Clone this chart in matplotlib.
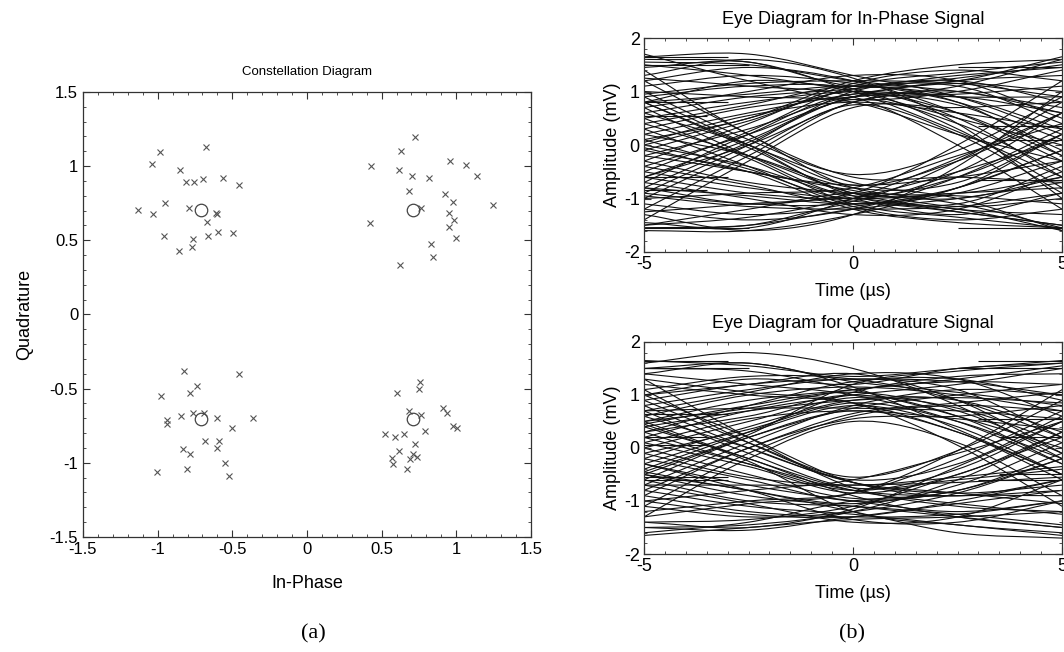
import numpy as np
import matplotlib
matplotlib.use("Agg")
import matplotlib.pyplot as plt
from matplotlib.path import Path
from matplotlib.patches import PathPatch
from matplotlib.ticker import MultipleLocator, FuncFormatter

plt.rcParams["font.family"] = ["Liberation Sans", "DejaVu Sans"]
plt.rcParams["axes.unicode_minus"] = False

# ideal QPSK points (circles)
ref_i = [-0.707, 0.707, -0.707, 0.707]
ref_q = [0.707, 0.707, -0.707, -0.707]

# received symbols (crosses), quadrant by quadrant
rx_i = [
    -0.984, -0.678, -1.040, -0.848, -0.810, -0.755, -0.696, -0.564, -0.453, -0.949,
    -1.134, -1.033, -0.792, -0.611, -0.604, -0.669, -0.957, -0.661, -0.594, -0.493,
    -0.761, -0.770, -0.857,
    0.724, 0.630, 0.956, 1.067, 0.619, 0.706, 0.817, 1.141, 0.686, 0.927,
    0.976, 1.244, 0.764, 0.953, 0.985, 0.953, 0.996, 0.833, 0.842, 0.623,
    0.430, 0.420,
    -0.826, -0.453, -0.734, -0.783, -0.978, -0.761, -0.690, -0.846, -0.937, -0.937,
    -0.604, -0.363, -0.502, -0.681, -0.587, -0.600, -0.832, -0.783, -0.549, -1.002,
    -0.801, -0.520,
    0.757, 0.748, 0.603, 0.686, 0.764, 0.909, 0.940, 0.791, 0.976, 1.007,
    0.525, 0.592, 0.648, 0.726, 0.619, 0.572, 0.574, 0.712, 0.735, 0.690, 0.668,
]
rx_q = [
    1.097, 1.127, 1.017, 0.976, 0.895, 0.895, 0.911, 0.920, 0.875, 0.754,
    0.706, 0.677, 0.716, 0.682, 0.675, 0.621, 0.529, 0.529, 0.558, 0.547,
    0.507, 0.453, 0.426,
    1.195, 1.102, 1.037, 1.006, 0.972, 0.934, 0.922, 0.932, 0.832, 0.812,
    0.756, 0.736, 0.716, 0.682, 0.635, 0.588, 0.513, 0.473, 0.389, 0.333,
    1.000, 0.620,
    -0.379, -0.404, -0.480, -0.528, -0.548, -0.667, -0.667, -0.685, -0.712, -0.739,
    -0.698, -0.696, -0.764, -0.853, -0.853, -0.903, -0.909, -0.941, -1.000, -1.064,
    -1.042, -1.089,
    -0.453, -0.503, -0.528, -0.651, -0.676, -0.631, -0.667, -0.786, -0.752, -0.768,
    -0.808, -0.824, -0.808, -0.876, -0.919, -0.970, -1.008, -0.941, -0.963, -0.977, -1.042,
]

# eye traces: amplitude (mV) at these times (us)
eye_t = [-5, -2.5, 0, 2.5, 5]

inphase_traces = [
    [1.65, 1.7, 1.3, 0.9, 0.2], [1.6, 1.55, 1.1, 1.2, 1.65], [1.2, 1.45, 1.2, 0.6, -0.3],
    [0.8, 1.2, 1.1, 1.3, 1.45], [0.2, 0.6, 0.95, 1.15, 1.0], [-0.2, 0.3, 0.9, 0.75, -0.1],
    [-0.6, 0.1, 0.85, 0.4, -0.5], [-1.0, -0.1, 0.75, 0.2, -0.9], [-1.4, -0.3, 0.7, 0.7, 0.8],
    [-0.9, 0.0, 1.0, 1.1, 0.4], [0.9, 1.1, 1.05, 0.3, -0.8], [0.5, 0.8, 1.0, 0.9, 0.9],
    [1.0, 0.9, 0.8, 0.2, -0.3], [1.5, 1.3, 1.0, 0.5, 0.0], [-0.3, 0.4, 1.15, 1.4, 1.2],
    [0.1, 0.5, 1.2, 1.5, 1.6], [1.3, 1.6, 1.25, 0.4, -1.0], [0.3, 0.7, 0.9, 1.0, 0.6],
    [-0.7, 0.2, 0.95, 0.6, -0.2], [0.8, 0.95, 1.1, 0.9, 0.3], [0.8, 0.0, -0.7, -1.0, -1.6],
    [-0.6, 0.0, 0.8, 1.1, 1.6], [1.7, 1.2, 0.85, 1.0, 1.4], [0.0, 0.5, 1.05, 1.2, 0.8],
    [1.1, 1.3, 1.15, 0.8, 0.1], [0.6, 0.9, 1.05, 1.25, 1.5], [-0.4, 0.2, 0.9, 1.2, 1.3],
    [-1.2, -0.2, 0.8, 0.9, 0.6], [1.55, 1.5, 1.2, 1.0, 0.7], [0.4, 0.75, 1.1, 0.8, -0.2],
    [-0.1, 0.45, 1.0, 0.5, -0.6], [1.25, 1.1, 0.9, 0.0, -1.2], [0.95, 1.15, 1.2, 1.15, 0.9],
    [-0.8, 0.05, 0.9, 0.95, 1.1], [0.7, 1.0, 1.3, 1.2, 0.5], [1.45, 1.55, 1.0, 0.25, -0.6],
    [0.05, 0.55, 0.8, 0.6, 0.3], [-0.5, 0.25, 1.1, 1.35, 1.55],
    [-1.6, -1.6, -1.3, -0.8, -0.1], [-1.55, -1.5, -1.1, -1.2, -1.6], [-1.2, -1.4, -1.2, -0.6, 0.3],
    [-0.8, -1.1, -1.0, -1.25, -1.5], [-0.2, -0.5, -0.85, -1.15, -1.0], [0.2, -0.2, -0.8, -0.7, 0.2],
    [0.6, 0.0, -0.75, -0.3, 0.6], [1.0, 0.1, -0.55, -0.1, 0.9], [1.4, 0.2, -0.6, -0.6, -0.7],
    [0.9, 0.0, -0.95, -1.1, -0.4], [-0.9, -1.1, -1.05, -0.3, 0.8], [-0.5, -0.8, -1.0, -0.9, -0.8],
    [-1.0, -0.9, -0.8, -0.2, 0.4], [-1.5, -1.35, -1.0, -0.5, 0.1], [0.3, -0.4, -1.15, -1.4, -1.2],
    [-0.1, -0.5, -1.2, -1.45, -1.55], [-1.3, -1.6, -1.3, -0.4, 1.0], [-0.3, -0.7, -0.9, -1.0, -0.6],
    [0.7, -0.2, -0.95, -0.6, 0.2], [-0.8, -0.95, -1.1, -0.9, -0.3], [-1.5, -1.2, -0.9, -1.1, -1.55],
    [0.0, -0.4, -1.0, -1.3, -0.9],
    [-1.1, -1.3, -1.15, -0.8, -0.1], [-0.6, -0.9, -1.05, -1.25, -1.5], [0.4, -0.2, -0.9, -1.2, -1.3],
    [1.2, 0.2, -0.8, -0.9, -0.6], [-1.55, -1.5, -1.2, -1.0, -0.7], [-0.4, -0.75, -1.1, -0.8, 0.2],
    [0.1, -0.45, -1.0, -0.5, 0.6], [-1.25, -1.1, -0.9, 0.0, 1.2], [-0.95, -1.15, -1.2, -1.15, -0.9],
    [0.8, -0.05, -0.9, -0.95, -1.1], [-0.7, -1.0, -1.3, -1.2, -0.5], [-1.45, -1.55, -1.0, -0.25, 0.6],
    [-0.05, -0.5, -0.75, -0.6, -0.3], [0.5, -0.25, -1.1, -1.35, -1.55],
]
# flat stretches: (level, t start, t end)
inphase_flat = [
    (1.65, -5, -3), (1.5, -5, -2.5), (1.45, 2.5, 5), (0.8, -5, -3), (0.55, -5, -3.5),
    (0.35, 3, 5), (0.1, 3.5, 5), (-0.6, -5, -3), (-0.85, -5, -3.5), (-1.55, -5, -2.5),
    (-1.55, 2.5, 5), (-0.65, 3, 5),
]

quad_traces = [
    [1.6, 1.8, 1.5, 0.8, -0.2], [1.65, 1.55, 1.35, 1.5, 1.65], [1.0, 1.3, 1.2, 1.5, 1.6],
    [0.6, 1.0, 1.15, 1.0, 0.7], [0.2, 0.7, 1.0, 1.2, 1.5], [-0.2, 0.4, 0.9, 0.9, 0.3],
    [-0.6, 0.2, 0.7, 0.3, -0.6], [-0.9, 0.0, 0.55, 0.6, 0.8], [-1.3, -0.2, 0.5, 0.1, -0.9],
    [0.7, 0.75, 0.75, 0.7, 0.55], [1.4, 1.2, 1.0, 0.5, -0.3], [0.8, 1.1, 1.3, 1.1, 0.2],
    [0.3, 0.8, 1.25, 1.3, 0.9], [-0.4, 0.3, 1.05, 1.35, 1.4], [1.2, 1.0, 0.85, 0.3, -0.5],
    [0.0, 0.5, 0.95, 0.75, 0.1], [1.5, 1.45, 1.1, 0.6, 0.0], [-0.7, 0.1, 0.8, 1.1, 1.0],
    [0.4, 0.7, 0.9, 0.95, 0.85], [1.0, 1.2, 1.4, 0.9, -0.1], [0.5, 0.75, 1.1, 1.25, 1.2],
    [0.3, 0.6, 1.0, 0.6, -0.3], [-0.1, 0.35, 0.85, 0.5, -0.2],
    [1.1, 1.35, 1.3, 0.9, 0.2], [0.5, 0.9, 1.1, 1.3, 1.55], [-0.5, 0.2, 0.75, 1.0, 1.2],
    [-1.1, -0.1, 0.6, 0.8, 0.7], [1.5, 1.6, 1.25, 1.05, 0.8], [0.45, 0.8, 1.05, 0.7, -0.1],
    [-0.3, 0.3, 0.8, 0.4, -0.5], [1.3, 1.05, 0.85, 0.05, -1.1], [0.9, 1.2, 1.3, 1.25, 1.0],
    [-0.8, 0.0, 0.65, 0.85, 1.05], [0.7, 1.05, 1.4, 1.3, 0.6], [1.4, 1.6, 1.15, 0.35, -0.5],
    [0.1, 0.55, 0.7, 0.55, 0.35], [-0.45, 0.25, 1.2, 1.45, 1.6],
    [-1.65, -1.5, -1.35, -1.3, -1.2], [-1.5, -1.45, -1.2, -0.6, 0.3], [-1.0, -1.25, -1.3, -1.0, -0.6],
    [-0.6, -1.0, -1.1, -1.25, -1.45], [-0.2, -0.6, -1.0, -0.8, -0.2], [0.2, -0.3, -0.8, -0.9, -0.8],
    [0.6, 0.0, -0.6, -0.3, 0.6], [0.9, 0.1, -0.55, -0.05, 0.9], [1.3, 0.2, -0.75, -1.1, -1.2],
    [-0.7, -0.7, -0.7, -0.65, -0.55], [-1.4, -1.35, -1.1, -0.5, 0.2], [-0.8, -1.1, -1.25, -1.45, -1.65],
    [-0.3, -0.7, -1.0, -1.2, -1.0], [0.0, -0.5, -0.95, -0.8, -0.1], [-1.2, -1.0, -0.85, -0.2, 0.7],
    [0.4, -0.2, -0.9, -1.3, -1.5], [-1.0, -0.8, -0.6, -0.1, 0.5], [0.7, -0.1, -0.75, -0.6, -0.4],
    [-0.5, -0.8, -1.2, -1.6, -1.7], [-1.6, -1.4, -1.0, -0.9, -0.9], [1.0, 0.2, -0.65, -0.9, -0.6],
    [-0.3, -0.8, -1.35, -1.4, -1.0], [0.1, -0.35, -0.85, -0.5, 0.3],
    [-1.1, -1.3, -1.2, -0.85, -0.2], [-0.5, -0.9, -1.1, -1.3, -1.5], [0.5, -0.2, -0.8, -1.05, -1.25],
    [1.1, 0.1, -0.65, -0.85, -0.7], [-1.5, -1.55, -1.3, -1.05, -0.8], [-0.45, -0.8, -1.05, -0.7, 0.1],
    [0.3, -0.3, -0.8, -0.4, 0.5], [-1.3, -1.05, -0.85, -0.05, 1.1], [-0.9, -1.2, -1.3, -1.25, -1.0],
    [0.8, 0.0, -0.65, -0.85, -1.05], [-0.7, -1.05, -1.4, -1.3, -0.6], [-1.4, -1.5, -1.15, -0.35, 0.5],
    [-0.1, -0.55, -0.7, -0.55, -0.35], [0.45, -0.25, -1.2, -1.45, -1.6],
]
quad_flat = [
    (1.65, -5, -3), (1.5, -5, -2.5), (1.5, 2.5, 5), (1.65, 3, 5), (0.65, -5, -3),
    (0.2, -5, -3.5), (0.05, -5, -3.5), (-0.55, -5, -3), (-0.6, -5, -3), (0.55, 3, 5),
    (0.2, 3.5, 5), (-0.6, 3, 5), (-0.5, 3.5, 5),
]

LINE = "#111111"
SPINE = "#333333"


def smooth_path(t, v):
    # cubic bezier through the sample points (catmull-rom tangents)
    t = np.asarray(t, float)
    v = np.asarray(v, float)
    slope = np.gradient(v, t)
    verts = [(t[0], v[0])]
    codes = [Path.MOVETO]
    for k in range(len(t) - 1):
        h = t[k + 1] - t[k]
        verts += [(t[k] + h / 3, v[k] + slope[k] * h / 3),
                  (t[k + 1] - h / 3, v[k + 1] - slope[k + 1] * h / 3),
                  (t[k + 1], v[k + 1])]
        codes += [Path.CURVE4] * 3
    return Path(verts, codes)


def matlab_axes(ax):
    ax.tick_params(which="both", direction="in", top=True, right=True, colors=SPINE,
                   labelcolor="black")
    ax.tick_params(which="major", length=5, width=0.8)
    ax.tick_params(which="minor", length=2.5, width=0.6)
    for s in ax.spines.values():
        s.set_color(SPINE)
        s.set_linewidth(0.9)


fig = plt.figure(figsize=(10.64, 6.52), dpi=100)

# (a) constellation
ax = fig.add_axes([0.078, 0.1764, 0.421, 0.6825])
ax.plot(rx_i, rx_q, linestyle="none", marker="x", markersize=5, mew=0.8, color="#555555")
ax.plot(ref_i, ref_q, linestyle="none", marker="o", markersize=9, mfc="none", mew=0.9,
        color="#444444")
ax.set_xlim(-1.5, 1.5)
ax.set_ylim(-1.5, 1.5)
ax.xaxis.set_major_locator(MultipleLocator(0.5))
ax.yaxis.set_major_locator(MultipleLocator(0.5))
ax.xaxis.set_minor_locator(MultipleLocator(0.1))
ax.yaxis.set_minor_locator(MultipleLocator(0.1))
fmt = FuncFormatter(lambda v, p: f"{v:g}")
ax.xaxis.set_major_formatter(fmt)
ax.yaxis.set_major_formatter(fmt)
matlab_axes(ax)
ax.tick_params(labelsize=12)
ax.set_title("Constellation Diagram", fontsize=9.5, pad=12)
ax.set_xlabel("In-Phase", fontsize=13, labelpad=13)
ax.set_ylabel("Quadrature", fontsize=13, labelpad=12)

# (b) eye diagrams
eyes = [
    ([0.6053, 0.6135, 0.3929, 0.3282], inphase_traces, inphase_flat,
     "Eye Diagram for In-Phase Signal"),
    ([0.6053, 0.1503, 0.3929, 0.3252], quad_traces, quad_flat,
     "Eye Diagram for Quadrature Signal"),
]
for rect, traces, flats, title in eyes:
    ex = fig.add_axes(rect)
    for tr in traces:
        ex.add_patch(PathPatch(smooth_path(eye_t, tr), fill=False, edgecolor=LINE, lw=0.8))
    for level, t0, t1 in flats:
        ex.hlines(level, t0, t1, color=LINE, lw=0.8)
    ex.set_xlim(-5, 5)
    ex.set_ylim(-2, 2)
    ex.set_xticks([-5, 0, 5])
    ex.set_yticks([-2, -1, 0, 1, 2])
    ex.xaxis.set_minor_locator(MultipleLocator(0.5))
    ex.yaxis.set_minor_locator(MultipleLocator(0.2))
    matlab_axes(ex)
    ex.tick_params(labelsize=13, pad=3)
    ex.set_title(title, fontsize=13, pad=10)
    ex.set_xlabel("Time (\u00b5s)", fontsize=13, labelpad=7)
    ex.set_ylabel("Amplitude (mV)", fontsize=13, labelpad=2)

fig.text(313 / 1064, 1 - 634 / 652, "(a)", family="Liberation Serif", fontsize=16,
         ha="center", va="center")
fig.text(852 / 1064, 1 - 634 / 652, "(b)", family="Liberation Serif", fontsize=16,
         ha="center", va="center")

fig.savefig("out.png", dpi=100)
